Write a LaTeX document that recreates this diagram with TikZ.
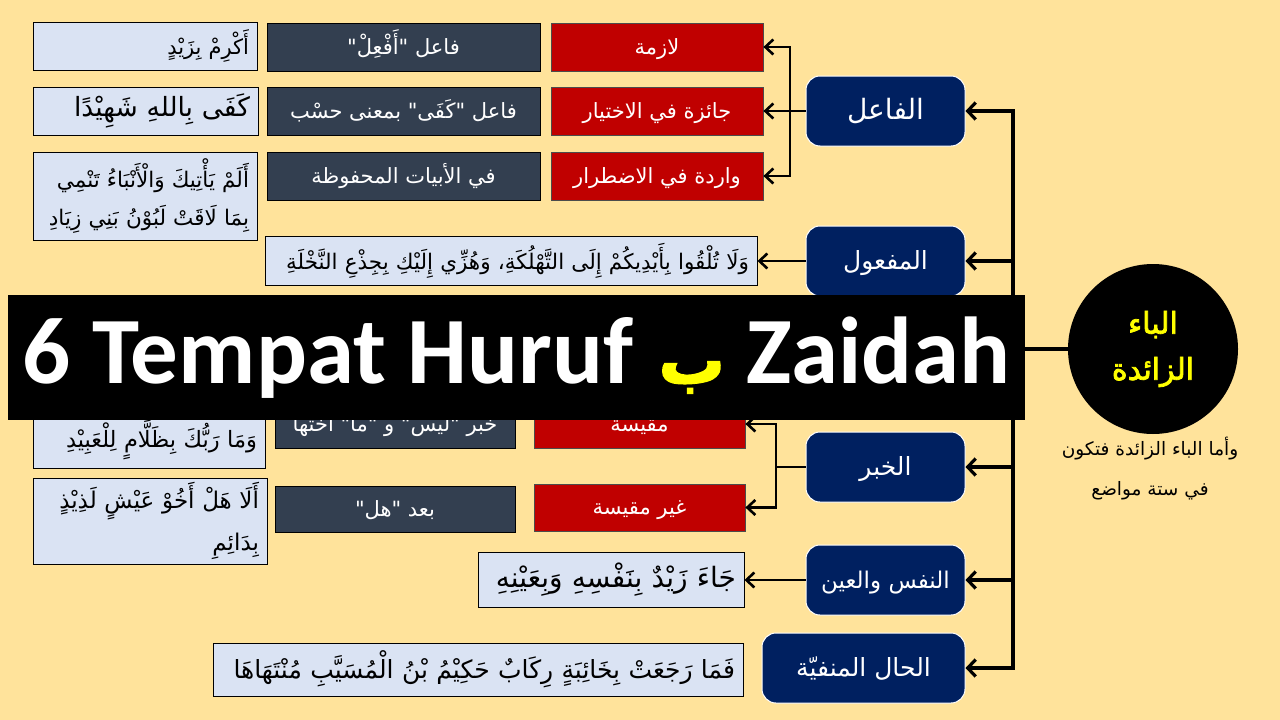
\documentclass[tikz,border=0pt]{standalone}
\usepackage{fontspec}
\usetikzlibrary{arrows.meta}
\setmainfont{Carlito}
\newfontfamily\ar[Script=Arabic]{DejaVu Sans}
\newfontfamily\arb[Script=Arabic,FakeBold=2.5]{DejaVu Sans}
\TeXXeTstate=1
\definecolor{bg}{HTML}{FFE39B}
\definecolor{lblue}{HTML}{DAE3F3}
\definecolor{slate}{HTML}{333F50}
\definecolor{dred}{HTML}{C00000}
\definecolor{navy}{HTML}{002060}
\definecolor{ttl}{HTML}{FFFF00}
\newcommand{\artx}[1]{\beginR #1\endR}
\newcommand{\dn}[1]{\raisebox{-7pt}[0pt][0pt]{\beginR #1\endR}}
\newcommand{\cdn}[1]{\raisebox{-8.5pt}[0pt][0pt]{\beginR #1\endR}}
\newcommand{\fs}[2]{\fontsize{#1}{#2}\selectfont}
\tikzset{
  lbox/.style={draw=black, line width=0.9pt, fill=lblue, text=black, inner xsep=8pt, inner ysep=0pt, align=right, font=\ar\fs{22}{30}},
  gbox/.style={draw=black, line width=0.8pt, fill=slate, text=white, inner sep=0pt, align=center, font=\ar\fs{21}{24}},
  rbox/.style={draw=black!70, line width=0.8pt, fill=dred, text=white, inner sep=0pt, align=center, font=\ar\fs{21}{24}},
  cat/.style={draw=white, line width=1pt, fill=navy, text=white, rounded corners=14pt, inner sep=0pt, minimum height=70pt, align=center, font=\ar\fs{25}{30}},
  trunkln/.style={line width=3.2pt, line cap=rect},
  arrA/.style={line width=3.2pt, -{Straight Barb[length=8pt,width=17pt]}},
  arrB/.style={line width=2.6pt, -{Straight Barb[length=8pt,width=15pt]}},
  thinln/.style={line width=2pt},
}
\begin{document}
\begin{tikzpicture}[x=1pt,y=-1pt]
\fill[bg] (0,0) rectangle (1280,720);
\useasboundingbox (0,0) rectangle (1280,720);

% top section: الفاعل
\node[lbox, text width=208pt, minimum height=48pt, font=\ar\fs{21}{30}] (a1) at (145,46) {\artx{أَكْرِمْ بِزَيْدٍ}};
\node[lbox, text width=209pt, minimum height=48pt, font=\ar\fs{26.5}{30}] (a2) at (145.5,111) {\artx{كَفَى بِاللهِ شَهِيْدًا}};
\node[lbox, text width=208pt, minimum height=88pt, font=\ar\fs{21.5}{38}] (a3) at (145,196) {\artx{أَلَمْ يَأْتِيكَ وَالْأَنْبَاءُ تَنْمِي}\\\artx{بِمَا لَاقَتْ لَبُوْنُ بَنِي زِيَادِ}};

\node[gbox, minimum width=273pt, minimum height=48pt] (g1) at (403.5,47) {\dn{فاعل "أَفْعِلْ"}};
\node[gbox, minimum width=273pt, minimum height=48pt] (g2) at (403.5,111) {\dn{فاعل "كَفَى" بمعنى حسْب}};
\node[gbox, minimum width=273pt, minimum height=48pt] (g3) at (403.5,176) {\dn{في الأبيات المحفوظة}};

\node[rbox, minimum width=212pt, minimum height=48pt] (r1) at (657,47) {\dn{لازمة}};
\node[rbox, minimum width=212pt, minimum height=48pt] (r2) at (657,111) {\dn{جائزة في الاختيار}};
\node[rbox, minimum width=212pt, minimum height=48pt] (r3) at (657,176) {\dn{واردة في الاضطرار}};

\node[cat, minimum width=159pt, font=\ar\fs{28}{30}] (fa) at (885.5,111) {\cdn{الفاعل}};
\node[cat, minimum width=159pt] (maf) at (885.5,261) {\cdn{المفعول}};
\node[lbox, text width=476pt, minimum height=49pt, font=\ar\fs{21.5}{30}] (b4) at (511,261) {\artx{وَلَا تُلْقُوا بِأَيْدِيكُمْ إِلَى التَّهْلُكَةِ، وَهُزِّي إِلَيْكِ بِجِذْعِ النَّخْلَةِ}};

% lower section: الخبر
\node[lbox, text width=216pt, minimum height=56pt, font=\ar\fs{22.5}{30}] (l5) at (149,440) {\artx{وَمَا رَبُّكَ بِظَلَّامٍ لِلْعَبِيْدِ}};
\node[lbox, text width=218pt, minimum height=86pt, font=\ar\fs{23}{42}] (l6) at (150,521) {\artx{أَلَا هَلْ أَخُوْ عَيْشٍ لَذِيْذٍ}\\\artx{بِدَائِمِ}};
\node[gbox, minimum width=240pt, minimum height=48pt] (g4) at (395,424) {\dn{خبر "ليس" و "ما" أختها}};
\node[gbox, minimum width=240pt, minimum height=46pt] (g5) at (395,509) {\dn{بعد "هل"}};
\node[rbox, minimum width=211pt, minimum height=48pt] (r4) at (639.5,424) {\dn{مقيسة}};
\node[rbox, minimum width=211pt, minimum height=47pt] (r5) at (639.5,507.5) {\dn{غير مقيسة}};
\node[cat, minimum width=159pt] (kh) at (885.5,467) {\cdn{الخبر}};

\node[cat, minimum width=159pt, font=\ar\fs{23}{30}] (nafs) at (885.5,580) {\cdn{النفس والعين}};
\node[lbox, text width=250pt, minimum height=55pt, font=\ar\fs{28}{30}] (l7) at (611,580) {\artx{جَاءَ زَيْدٌ بِنَفْسِهِ وَبِعَيْنِهِ}};

\node[cat, minimum width=203pt] (hal) at (863.5,668) {\cdn{الحال المنفيّة}};
\node[lbox, text width=514pt, minimum height=53pt, font=\ar\fs{25}{30}] (l8) at (478,669.5) {\artx{فَمَا رَجَعَتْ بِخَائِبَةٍ رِكَابٌ حَكِيْمُ بْنُ الْمُسَيَّبِ مُنْتَهَاهَا}};

% circle and caption
\node[circle, fill=black, minimum size=170pt, inner sep=0pt, text=ttl, align=center, font=\arb\fs{30}{46}] (circ) at (1153,349) {\artx{الباء}\\\artx{الزائدة}};
\node[align=center, font=\ar\fs{18.5}{40}, text=black] (sub) at (1150,469) {\artx{وأما الباء الزائدة فتكون}\\\artx{في ستة مواضع}};

% connectors
\coordinate (trk) at (1013,349);
\draw[trunkln] (trk |- fa.east) -- (trk |- hal.east);
\draw[trunkln] (trk) -- (circ.west);
\draw[arrA] (trk |- fa.east) -- (fa.east);
\draw[arrA] (trk |- maf.east) -- (maf.east);
\draw[arrA] (trk |- kh.east) -- (kh.east);
\draw[arrA] (trk |- nafs.east) -- (nafs.east);
\draw[arrA] (trk |- hal.east) -- (hal.east);

\coordinate (fb) at (790,111);
\draw[thinln] (fa.west) -- (fb);
\draw[arrB] (fb) |- (r1.east);
\draw[arrB] (fb) -- (r2.east);
\draw[arrB] (fb) |- (r3.east);

\coordinate (kb) at (776,467);
\draw[thinln] (kh.west) -- (kb);
\draw[arrB] (kb) |- (r4.east);
\draw[arrB] (kb) |- (r5.east);

\draw[arrB] (maf.west) -- (b4.east);
\draw[arrB] (nafs.west) -- (l7.east);

% banner
\node[fill=black, minimum width=1017pt, minimum height=125pt, inner sep=0pt, text=white, font=\bfseries\fs{95}{95}] (banner) at (516.5,357.5) {6 Tempat Huruf\hspace{4pt} {\color{ttl}\arb\fs{66}{66}\artx{ب}}\hspace{0pt} Zaidah};
\end{tikzpicture}
\end{document}
